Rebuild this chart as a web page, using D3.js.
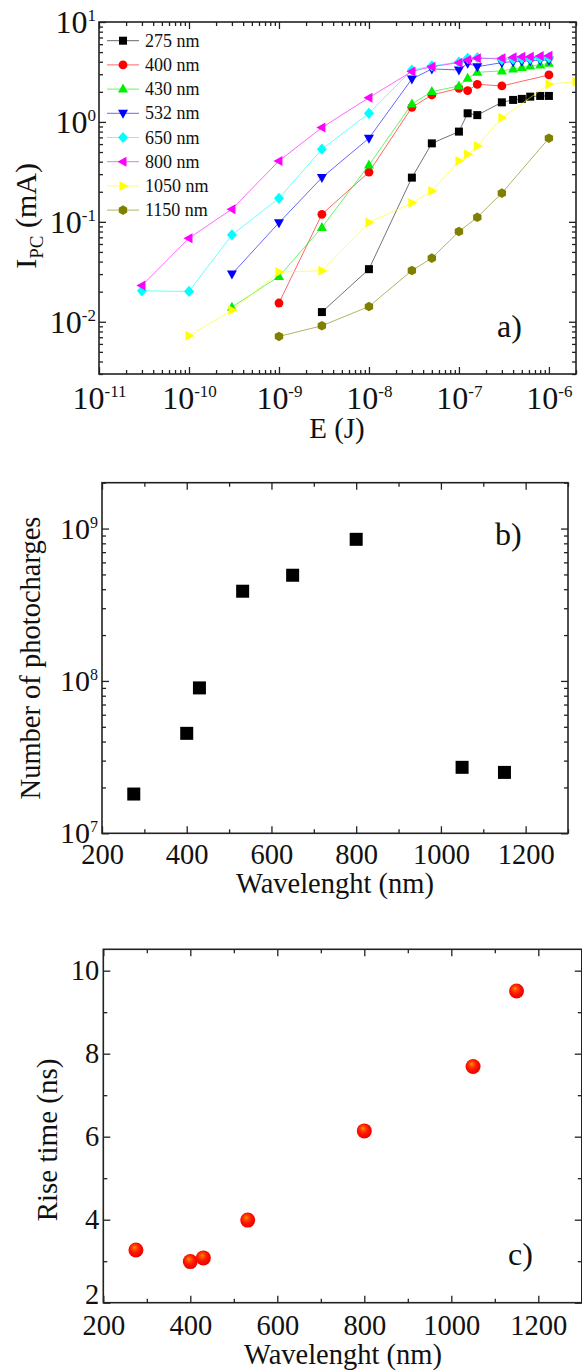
<!DOCTYPE html>
<html><head><meta charset="utf-8">
<script src="https://cdn.jsdelivr.net/npm/d3@7"></script>
<style>
body{margin:0;background:#fff}
svg{display:block}
text{font-family:"Liberation Serif","Times New Roman",serif;fill:#111}
</style>
</head><body>
<svg id="c" width="582" height="1370"></svg>
<script>
// ---------- Panel a data: photocurrent vs pulse energy ----------
const seriesNames = ["275 nm","400 nm","430 nm","532 nm","650 nm","800 nm","1050 nm","1150 nm"];
const E_275 = [3e-9,1e-8,3e-8,5e-8,1e-7,1.25e-7,1.6e-7,3e-7,4e-7,5e-7,6.2e-7,8e-7,1e-6];
const I_275 = [0.0125,0.0336,0.277,0.61,0.80,1.22,1.17,1.57,1.66,1.70,1.79,1.82,1.82];
const E_400 = [1e-9,3e-9,1e-8,3e-8,5e-8,1e-7,1.25e-7,1.6e-7,3e-7,1e-6];
const I_400 = [0.0154,0.119,0.314,1.40,1.86,2.17,2.06,2.38,2.29,2.95];
const E_430 = [3e-10,1e-9,3e-9,1e-8,3e-8,5e-8,1e-7,1.25e-7,1.6e-7,3e-7,4e-7,5e-7,6.2e-7,8e-7,1e-6];
const I_430 = [0.014,0.0284,0.088,0.37,1.51,2.01,2.29,2.73,3.14,3.24,3.39,3.5,3.63,3.72,3.86];
const E_532 = [3e-10,1e-9,3e-9,1e-8,3e-8,5e-8,1e-7,1.25e-7,1.6e-7,3e-7,4e-7,5e-7,6.2e-7,8e-7,1e-6];
const I_532 = [0.030,0.098,0.277,0.687,2.69,3.39,3.31,3.86,3.57,3.92,4.01,4.05,4.1,4.15,4.15];
const E_650 = [3e-11,1e-10,3e-10,1e-9,3e-9,1e-8,3e-8,5e-8,1e-7,1.25e-7,1.6e-7,3e-7,4e-7,5e-7,6.2e-7,8e-7,1e-6];
const I_650 = [0.0204,0.0201,0.074,0.172,0.533,1.22,3.31,3.63,3.98,4.33,4.4,4.2,4.25,4.3,4.3,4.35,4.4];
const E_800 = [3e-11,1e-10,3e-10,1e-9,3e-9,1e-8,3e-8,5e-8,1e-7,1.25e-7,1.6e-7,3e-7,4e-7,5e-7,6.2e-7,8e-7,1e-6];
const I_800 = [0.023,0.0687,0.134,0.407,0.877,1.75,3.2,3.57,3.92,4.17,4.33,4.33,4.43,4.5,4.5,4.57,4.6];
const E_1050 = [1e-10,3e-10,1e-9,3e-9,1e-8,3e-8,5e-8,1e-7,1.25e-7,1.6e-7,3e-7,1e-6,2e-6];
const I_1050 = [0.00724,0.013,0.0314,0.0324,0.0985,0.154,0.204,0.407,0.475,0.575,1.10,2.38,2.53];
const E_1150 = [1e-9,3e-9,1e-8,3e-8,5e-8,1e-7,1.6e-7,3e-7,1e-6];
const I_1150 = [0.00713,0.00912,0.0142,0.0326,0.0433,0.080,0.111,0.194,0.687];
const seriesColors = ["#000000","#ff0000","#00ee00","#0000ff","#00ffff","#ff00ff","#ffff00","#808000"];
const seriesShapes = ["square","circle","triUp","triDown","diamond","triLeft","triRight","hexagon"];
const energyTicks = [1e-11,1e-10,1e-9,1e-8,1e-7,1e-6];
const currentTicks = [1e-2,1e-1,1,10];

// ---------- Panel b data ----------
const wavelengths = [275,400,430,532,650,800,1050,1150];
const photocharges = [1.81e7,4.53e7,9.0e7,3.88e8,4.94e8,8.5e8,2.71e7,2.51e7];
const chargeTicks = [1e7,1e8,1e9];
const wlTicks = [200,400,600,800,1000,1200];
const wlMinorTicks = [300,500,700,900,1100,1300];

// ---------- Panel c data ----------
const riseTimes = [3.27,2.99,3.08,3.99,6.14,7.69,9.51];
const riseWavelengths = [275,400,430,532,800,1050,1150];
const riseTicks = [2,4,6,8,10];
const riseMinorTicks = [3,5,7,9];

const svg = d3.select("#c");
const defs = svg.append("defs");
const grad = defs.append("radialGradient").attr("id","ball")
  .attr("cx","0.45").attr("cy","0.42").attr("r","0.6").attr("fx","0.4").attr("fy","0.32");
grad.append("stop").attr("offset","0").attr("stop-color","#ff9a00");
grad.append("stop").attr("offset","0.22").attr("stop-color","#ff5200");
grad.append("stop").attr("offset","0.55").attr("stop-color","#ff1400");
grad.append("stop").attr("offset","1").attr("stop-color","#e80000");

const shapePath = {
  square:"M-4,-4H4V4H-4Z",
  circle:"M4.4,0A4.4,4.4 0 1,1 -4.4,0A4.4,4.4 0 1,1 4.4,0Z",
  triUp:"M0,-5.5L5,3.5L-5,3.5Z",
  triDown:"M0,5.5L5,-3.5L-5,-3.5Z",
  diamond:"M0,-5.6L5,0L0,5.6L-5,0Z",
  triLeft:"M-5.5,0L3.5,-5L3.5,5Z",
  triRight:"M5.5,0L-3.5,-5L-3.5,5Z",
  hexagon:"M0,-4.8L4.2,-2.4L4.2,2.4L0,4.8L-4.2,2.4L-4.2,-2.4Z"
};

function supify(sel, fs, supFs, rise) {
  sel.each(function(d){
    const t = d3.select(this);
    const e = Math.round(Math.log10(d));
    t.text(null);
    t.append("tspan").text("10");
    t.append("tspan").attr("dy", -rise).attr("font-size", supFs).text(String(e));
  });
}

function axes(g, x, y, o) {
  const X0 = x.range()[0], X1 = x.range()[1], Yb = y.range()[0], Yt = y.range()[1];
  const put = (axis, tx, ty) => {
    const a = g.append("g").attr("transform", `translate(${tx},${ty})`).call(axis);
    a.select(".domain").remove();
    a.attr("font-size", null).attr("font-family", null);
    a.selectAll("line").attr("stroke", "#222").attr("stroke-width", 1.3);
    return a;
  };
  const bx = put(d3.axisBottom(x).tickValues(o.xMajor).tickSizeInner(-7).tickSizeOuter(0).tickPadding(o.xPad).tickFormat(o.xFmt), 0, Yb);
  put(d3.axisBottom(x).tickValues(o.xMinor).tickSizeInner(-4).tickSizeOuter(0).tickFormat(""), 0, Yb);
  put(d3.axisTop(x).tickValues(o.xMajor).tickSizeInner(-7).tickSizeOuter(0).tickFormat(""), 0, Yt);
  put(d3.axisTop(x).tickValues(o.xMinor).tickSizeInner(-4).tickSizeOuter(0).tickFormat(""), 0, Yt);
  const ly = put(d3.axisLeft(y).tickValues(o.yMajor).tickSizeInner(-7).tickSizeOuter(0).tickPadding(o.yPad).tickFormat(o.yFmt), X0, 0);
  put(d3.axisLeft(y).tickValues(o.yMinor).tickSizeInner(-4).tickSizeOuter(0).tickFormat(""), X0, 0);
  put(d3.axisRight(y).tickValues(o.yMajor).tickSizeInner(-7).tickSizeOuter(0).tickFormat(""), X1, 0);
  put(d3.axisRight(y).tickValues(o.yMinor).tickSizeInner(-4).tickSizeOuter(0).tickFormat(""), X1, 0);
  bx.selectAll("text").attr("font-size", o.fs).attr("fill", "#111");
  ly.selectAll("text").attr("font-size", o.fs).attr("fill", "#111");
  g.append("rect").attr("x", X0).attr("y", Yt).attr("width", X1 - X0).attr("height", Yb - Yt)
    .attr("fill", "none").attr("stroke", "#222").attr("stroke-width", 1.6);
  return {bx, ly};
}

// ================= Panel a =================
const ax = d3.scaleLog().domain([1e-11, 2e-6]).range([99, 576]);
const ay = d3.scaleLog().domain([3e-3, 10]).range([374, 22]);
const ga = svg.append("g");
defs.append("clipPath").attr("id","clipA").append("rect")
  .attr("x", 99).attr("y", 22).attr("width", 477).attr("height", 352);
const pa = ga.append("g").attr("clip-path","url(#clipA)");
const Es = [E_275,E_400,E_430,E_532,E_650,E_800,E_1050,E_1150];
const Is = [I_275,I_400,I_430,I_532,I_650,I_800,I_1050,I_1150];
const line = d3.line().x(d => ax(d[0])).y(d => ay(d[1]));
seriesNames.forEach((name, i) => {
  const pts = Es[i].map((e, j) => [e, Is[i][j]]);
  pa.append("path").datum(pts).attr("d", line).attr("fill","none")
    .attr("stroke", seriesColors[i]).attr("stroke-width", 1).attr("stroke-opacity", i === 0 ? 0.55 : 0.6);
  pa.selectAll(null).data(pts).enter().append("path")
    .attr("d", shapePath[seriesShapes[i]])
    .attr("transform", d => `translate(${ax(d[0])},${ay(d[1])})`)
    .attr("fill", seriesColors[i]);
});
const aAx = axes(ga, ax, ay, {
  xMajor: energyTicks, xMinor: ax.ticks().filter(v => Math.abs(Math.log10(v) % 1) > 1e-6),
  yMajor: currentTicks, yMinor: ay.ticks().filter(v => Math.abs(Math.log10(v) % 1) > 1e-6),
  xFmt: d => d, yFmt: d => d, xPad: 12, yPad: 3, fs: 32
});
supify(aAx.bx.selectAll("text"), 32, 17, 12);
supify(aAx.ly.selectAll("text"), 32, 17, 12);
// legend
const leg = ga.append("g");
seriesNames.forEach((name, i) => {
  const yy = 40.7 + i * 24.2;
  leg.append("line").attr("x1", 107).attr("x2", 139).attr("y1", yy).attr("y2", yy)
    .attr("stroke", seriesColors[i]).attr("stroke-width", 1).attr("stroke-opacity", 0.6);
  leg.append("path").attr("d", shapePath[seriesShapes[i]]).attr("transform", `translate(123,${yy})`).attr("fill", seriesColors[i]);
  leg.append("text").attr("x", 145).attr("y", yy + 6).attr("font-size", 18).text(name);
});
// titles
const ta = ga.append("text").attr("transform", "translate(36,216) rotate(-90)").attr("text-anchor","middle").attr("font-size", 30);
ta.append("tspan").text("I");
ta.append("tspan").attr("font-size", 19).attr("dy", 7).text("PC");
ta.append("tspan").attr("dy", -7).text(" (mA)");
ga.append("text").attr("x", 337).attr("y", 438).attr("text-anchor","middle").attr("font-size", 29).text("E (J)");
ga.append("text").attr("x", 497).attr("y", 337).attr("font-size", 32).text("a)");

// ================= Panel b =================
const bxs = d3.scaleLinear().domain([200, 1300]).range([102, 568]);
const bys = d3.scaleLog().domain([1e7, 2e9]).range([833.3, 482.7]);
const gb = svg.append("g");
const bAx = axes(gb, bxs, bys, {
  xMajor: wlTicks, xMinor: wlMinorTicks,
  yMajor: chargeTicks, yMinor: bys.ticks().filter(v => Math.abs(Math.log10(v) % 1) > 1e-6),
  xFmt: d => d, yFmt: d => d, xPad: 10, yPad: 4, fs: 30
});
supify(bAx.ly.selectAll("text"), 30, 16, 11);
gb.selectAll(null).data(wavelengths).enter().append("rect")
  .attr("x", (d) => bxs(d) - 6.5).attr("y", (d, i) => bys(photocharges[i]) - 6.5)
  .attr("width", 13).attr("height", 13).attr("fill", "#000");
bAx.bx.selectAll("text").attr("font-size", 28.5);
gb.append("text").attr("transform", "translate(40,658) rotate(-90)").attr("text-anchor","middle").attr("font-size", 28.5).text("Number of photocharges");
gb.append("text").attr("x", 335).attr("y", 893).attr("text-anchor","middle").attr("font-size", 28.5).text("Wavelenght (nm)");
gb.append("text").attr("x", 495).attr("y", 545).attr("font-size", 32).text("b)");

// ================= Panel c =================
const cxs = d3.scaleLinear().domain([200, 1300]).range([103.3, 581.8]);
const cys = d3.scaleLinear().domain([2, 10.515]).range([1302.7, 949.3]);
const gc = svg.append("g");
const cAx = axes(gc, cxs, cys, {
  xMajor: wlTicks, xMinor: wlMinorTicks,
  yMajor: riseTicks, yMinor: riseMinorTicks,
  xFmt: d => d, yFmt: d => d, xPad: 12, yPad: 4, fs: 28.5
});
cAx.ly.selectAll("text").filter(d => d === 2).attr("dy", "0.02em");
gc.selectAll(null).data(riseWavelengths).enter().append("circle")
  .attr("cx", d => cxs(d)).attr("cy", (d, i) => cys(riseTimes[i])).attr("r", 7.5)
  .attr("fill", "url(#ball)");
gc.append("text").attr("transform", "translate(57,1140) rotate(-90)").attr("text-anchor","middle").attr("font-size", 29).text("Rise time (ns)");
gc.append("text").attr("x", 343).attr("y", 1364).attr("text-anchor","middle").attr("font-size", 28.5).text("Wavelenght (nm)");
gc.append("text").attr("x", 508).attr("y", 1265).attr("font-size", 32).text("c)");
</script>
</body></html>
